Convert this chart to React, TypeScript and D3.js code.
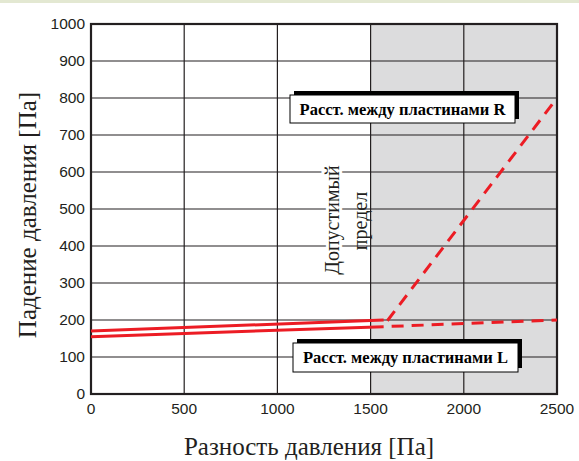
import * as d3 from 'd3';

const xTicks = [0, 500, 1000, 1500, 2000, 2500];
const yTicks = [0, 100, 200, 300, 400, 500, 600, 700, 800, 900, 1000];

// plate spacing R: solid up to the limit, dashed beyond
const rSolid: [number, number][] = [[0, 170], [1570, 200]];
const rDashed: [number, number][] = [[1590, 198], [2500, 800]];
// plate spacing L
const lSolid: [number, number][] = [[0, 155], [1570, 182]];
const lDashed: [number, number][] = [[1570, 182], [2500, 200]];

const limitX = 1500;
const labelR = 'Расст. между пластинами R';
const labelL = 'Расст. между пластинами L';

export default function App() {
  const W = 579;
  const H = 461;
  const left = 91;
  const right = 557;
  const top = 24;
  const bottom = 394;

  const x = d3.scaleLinear().domain([0, 2500]).range([left, right]);
  const y = d3.scaleLinear().domain([0, 1000]).range([bottom, top]);
  const line = d3.line<[number, number]>().x((d) => x(d[0])).y((d) => y(d[1]));

  const serif = '"Liberation Serif", "DejaVu Serif", serif';
  const sans = '"Liberation Sans", Arial, sans-serif';
  const red = '#ec1c24';

  const box = (label: string, bx: number, by: number, bw: number, bh: number) => (
    <g>
      <rect x={bx + 4} y={by - 4} width={bw} height={bh} fill="#000" />
      <rect x={bx} y={by} width={bw} height={bh} fill="#fff" stroke="#000" strokeWidth={1} />
      <text
        x={bx + bw / 2}
        y={by + bh / 2 + 5.5}
        textAnchor="middle"
        fontFamily={serif}
        fontWeight="bold"
        fontSize={16.5}
      >
        {label}
      </text>
    </g>
  );

  return (
    <svg
      width={W}
      height={H}
      viewBox={`0 0 ${W} ${H}`}
      style={{ position: 'absolute', left: 0, top: 0, background: '#fff' }}
    >
      <rect x={0} y={0} width={W} height={3} fill="#e3e8d2" />
      <rect x={x(limitX)} y={top} width={right - x(limitX)} height={bottom - top} fill="#dcdcdd" />

      {/* grid */}
      {xTicks.slice(1, -1).map((t) => (
        <line key={'gx' + t} x1={x(t)} x2={x(t)} y1={top} y2={bottom} stroke="#231f20" strokeWidth={1.2} />
      ))}
      {yTicks.slice(1, -1).map((t) => (
        <line key={'gy' + t} x1={left} x2={right} y1={y(t)} y2={y(t)} stroke="#231f20" strokeWidth={1.2} />
      ))}

      {/* permissible limit text */}
      <g transform={`translate(332,220) rotate(-90)`}>
        <text
          textAnchor="middle"
          y={7}
          fontFamily={serif}
          fontSize={20}
          stroke="#fff"
          strokeWidth={6}
          paintOrder="stroke"
          fill="#231f20"
        >
          Допустимый
        </text>
      </g>
      <g transform={`translate(360,221) rotate(-90)`}>
        <text textAnchor="middle" y={7} fontFamily={serif} fontSize={20} fill="#231f20">
          предел
        </text>
      </g>

      {/* frame */}
      <rect x={left} y={top} width={right - left} height={bottom - top} fill="none" stroke="#231f20" strokeWidth={2.2} />

      {/* series */}
      <path d={line(rSolid) ?? ''} fill="none" stroke={red} strokeWidth={3} />
      <path d={line(lSolid) ?? ''} fill="none" stroke={red} strokeWidth={3} />
      <path d={line(rDashed) ?? ''} fill="none" stroke={red} strokeWidth={3} strokeDasharray="12 8" />
      <path d={line(lDashed) ?? ''} fill="none" stroke={red} strokeWidth={3} strokeDasharray="12 8" strokeDashoffset={-8} />

      {box(labelR, 290, 95, 225, 28)}
      {box(labelL, 293, 343, 225, 29)}

      {/* ticks */}
      {yTicks.map((t) => (
        <text key={'ty' + t} x={left - 6} y={y(t) + 5} textAnchor="end" fontFamily={sans} fontSize={15.5} fill="#231f20">
          {t}
        </text>
      ))}
      {xTicks.map((t) => (
        <text key={'tx' + t} x={x(t)} y={bottom + 20} textAnchor="middle" fontFamily={sans} fontSize={15.5} fill="#231f20">
          {t}
        </text>
      ))}

      {/* axis titles */}
      <text x={309} y={455} textAnchor="middle" fontFamily={serif} fontSize={25} fill="#231f20">
        Разность давления [Па]
      </text>
      <text
        transform="translate(36,215) rotate(-90)"
        textAnchor="middle"
        fontFamily={serif}
        fontSize={25}
        fill="#231f20"
      >
        Падение давления [Па]
      </text>
    </svg>
  );
}
